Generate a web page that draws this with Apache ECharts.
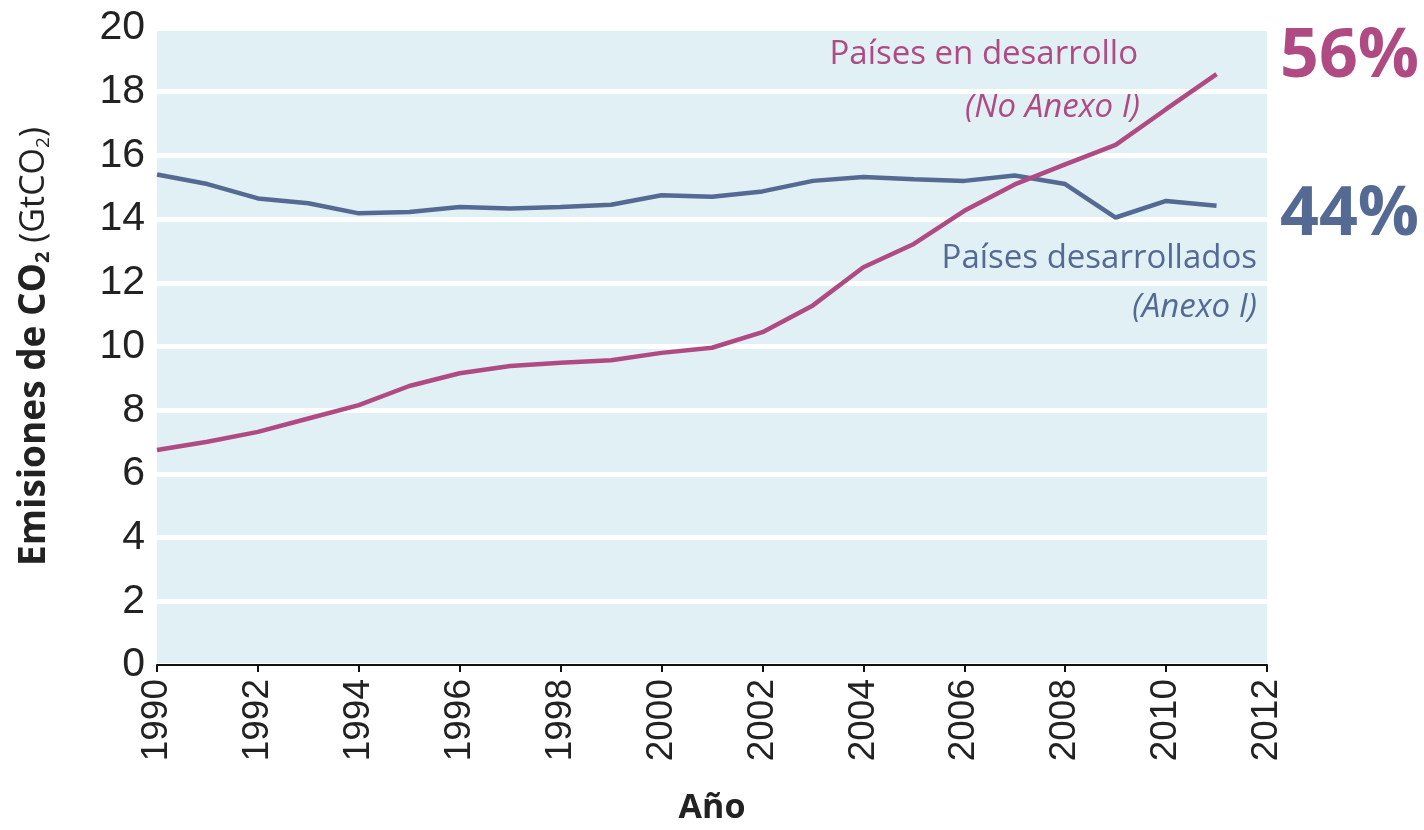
<!DOCTYPE html>
<html>
<head>
<meta charset="utf-8">
<script src="https://cdn.jsdelivr.net/npm/echarts@6/dist/echarts.min.js"></script>
<style>
  html, body { margin: 0; padding: 0; background: #fff; }
  #chart { width: 1424px; height: 830px; }
</style>
</head>
<body>
<div id="chart"></div>
<script>
// años y emisiones (GtCO2)
const years = [1990, 1991, 1992, 1993, 1994, 1995, 1996, 1997, 1998, 1999, 2000,
  2001, 2002, 2003, 2004, 2005, 2006, 2007, 2008, 2009, 2010, 2011];
const desarrollados = [15.4, 15.1, 14.65, 14.5, 14.18, 14.22, 14.38, 14.33, 14.38, 14.45, 14.75,
  14.7, 14.87, 15.2, 15.32, 15.25, 15.2, 15.37, 15.1, 14.05, 14.57, 14.42];
const enDesarrollo = [6.75, 7.01, 7.32, 7.74, 8.16, 8.76, 9.16, 9.39, 9.49, 9.57, 9.8,
  9.96, 10.45, 11.29, 12.49, 13.22, 14.26, 15.09, 15.72, 16.33, 17.45, 18.55];

const pink = '#b04a83';
const blue = '#556a93';

const chart = echarts.init(document.getElementById('chart'));

const pairs = vals => years.map((y, i) => [y, vals[i]]);

const option = {
  animation: false,
  grid: {
    left: 157,
    right: 157,
    top: 28,
    bottom: 165,
    outerBoundsMode: 'none',
    show: true,
    backgroundColor: '#e0f0f4',
    borderWidth: 0
  },
  xAxis: {
    type: 'value',
    min: 1990,
    max: 2012,
    interval: 2,
    name: 'Año',
    nameLocation: 'middle',
    nameGap: 126,
    nameTextStyle: {
      fontFamily: 'Open Sans',
      fontWeight: 'bold',
      fontSize: 34,
      color: '#222'
    },
    axisLine: { lineStyle: { color: '#111', width: 2 } },
    axisTick: { show: true, length: 7, lineStyle: { color: '#111', width: 2 } },
    axisLabel: {
      rotate: 90,
      margin: 14,
      fontFamily: 'Liberation Sans',
      fontSize: 37,
      color: '#222',
      formatter: v => String(v)
    },
    splitLine: { show: false }
  },
  yAxis: {
    type: 'value',
    min: 0,
    max: 20,
    interval: 2,
    name: '{b|Emisiones de CO}{bs|2}{n| (GtCO}{ns|2}{n|)}',
    nameLocation: 'middle',
    nameRotate: 90,
    nameGap: 104,
    nameTextStyle: {
      rich: {
        b: { fontFamily: 'Open Sans', fontWeight: 'bold', fontSize: 37, color: '#222' },
        bs: { fontFamily: 'Open Sans', fontWeight: 'bold', fontSize: 20, color: '#222', verticalAlign: 'bottom', padding: [18, 0, 0, 0] },
        n: { fontFamily: 'Open Sans', fontSize: 34, color: '#222' },
        ns: { fontFamily: 'Open Sans', fontSize: 19, color: '#222', verticalAlign: 'bottom', padding: [18, 0, 0, 0] }
      }
    },
    axisLine: { show: false },
    axisTick: { show: false },
    axisLabel: {
      margin: 12,
      fontFamily: 'Liberation Sans',
      fontSize: 41,
      color: '#222'
    },
    splitLine: { lineStyle: { color: '#ffffff', width: 5 } }
  },
  series: [
    {
      name: 'Países desarrollados',
      type: 'line',
      data: pairs(desarrollados),
      symbol: 'none',
      lineStyle: { color: blue, width: 4.5 },
      z: 2
    },
    {
      name: 'Países en desarrollo',
      type: 'line',
      data: pairs(enDesarrollo),
      symbol: 'none',
      lineStyle: { color: pink, width: 4.5 },
      z: 3
    }
  ],
  graphic: [
    { type: 'text', right: 1424 - 1138, top: 38,
      style: { text: 'Países en desarrollo', fill: pink, font: '33px "Open Sans"' } },
    { type: 'text', right: 1424 - 1140, top: 91,
      style: { text: '(No Anexo I)', fill: pink, font: 'italic 33px "Open Sans"' } },
    { type: 'text', right: 1424 - 1257, top: 242,
      style: { text: 'Países desarrollados', fill: blue, font: '33px "Open Sans"' } },
    { type: 'text', right: 1424 - 1257, top: 291,
      style: { text: '(Anexo I)', fill: blue, font: 'italic 33px "Open Sans"' } },
    { type: 'text', left: 1280, top: 24,
      style: { text: '56%', fill: pink, font: 'bold 68px "Open Sans"' } },
    { type: 'text', left: 1280, top: 182,
      style: { text: '44%', fill: blue, font: 'bold 68px "Open Sans"' } }
  ]
};

chart.setOption(option);
</script>
</body>
</html>
